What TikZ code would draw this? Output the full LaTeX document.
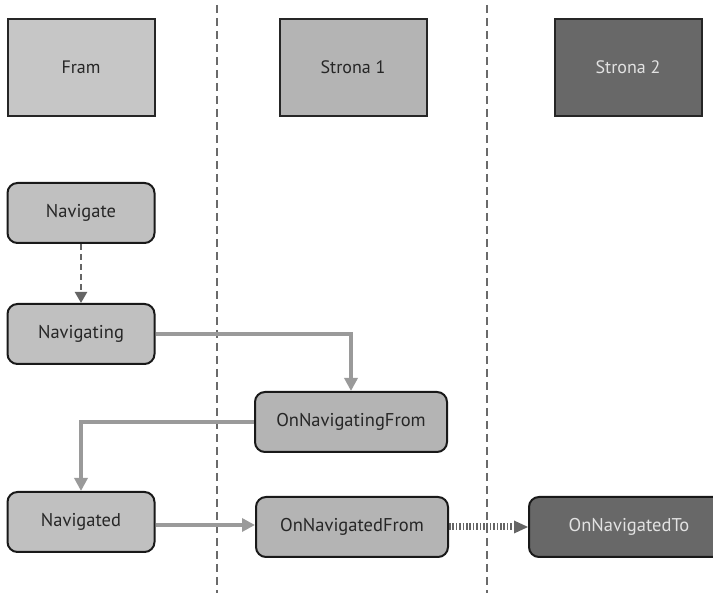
\documentclass[tikz,border=0pt]{standalone}
\usepackage{fontspec}
\setmainfont{PT Sans}
\usetikzlibrary{arrows.meta}
\definecolor{framfill}{HTML}{C6C6C6}
\definecolor{s1fill}{HTML}{B4B4B4}
\definecolor{s2fill}{HTML}{686868}
\definecolor{nodefill}{HTML}{C0C0C0}
\definecolor{nodefillb}{HTML}{B4B4B4}
\definecolor{arrowgray}{HTML}{9A9A9A}
\definecolor{darkarrow}{HTML}{656565}
\definecolor{linegray}{HTML}{6A6A6A}
\definecolor{lighttext}{HTML}{E2E2E2}
\begin{document}
\begin{tikzpicture}[x=1pt,y=-1pt,
  header/.style={draw=black!85,line width=2pt,minimum width=147pt,minimum height=97pt,inner sep=0pt,font=\fontsize{18}{20}\selectfont,text=black!85},
  evbox/.style={draw=black!90,line width=2pt,rounded corners=10pt,minimum height=60pt,inner sep=0pt,fill=nodefill,font=\fontsize{18.5}{21}\selectfont,text=black!85},
  flow/.style={draw=arrowgray,line width=3.5pt,-{Triangle[length=13pt,width=13pt]}},
  divider/.style={draw=linegray,line width=1.1pt,dash pattern=on 8pt off 5pt}
]
\useasboundingbox (0,0) rectangle (713,593);
% dividers
\coordinate (d1t) at (217,5);
\coordinate (d1b) at (217,593);
\coordinate (d2t) at (487,5);
\coordinate (d2b) at (487,593);
\draw[divider] (d1t) -- (d1b);
\draw[divider] (d2t) -- (d2b);
% headers
\node[header,fill=framfill] (fram) at (81,67.5) {Fram};
\node[header,fill=s1fill] (s1) at (353,67.5) {Strona 1};
\node[header,fill=s2fill,text=lighttext] (s2) at (628,67.5) {Strona 2};
% event boxes
\node[evbox,minimum width=147pt] (navigate) at (81,213) {Navigate};
\node[evbox,minimum width=147pt] (navigating) at (81,334) {Navigating};
\node[evbox,minimum width=192pt,fill=nodefillb] (onnavfrom) at (351,422) {OnNavigatingFrom};
\node[evbox,minimum width=147pt] (navigated) at (81,522) {Navigated};
\node[evbox,minimum width=192pt,fill=nodefillb] (onnavdfrom) at (352,527) {OnNavigatedFrom};
\node[evbox,minimum width=200pt,fill=s2fill,text=lighttext] (onnavto) at (629,527) {OnNavigatedTo};
% connectors
\draw[draw=darkarrow,line width=2.2pt,dash pattern=on 6pt off 4pt,-{Triangle[length=11pt,width=12pt]}] (navigate.south) -- (navigating.north);
\draw[flow] (navigating.east) -| (onnavfrom.north);
\draw[flow] (onnavfrom.west) -| (navigated.north);
\draw[flow] (navigated.east |- 0,525) -- (onnavdfrom.west |- 0,525);
\draw[draw=darkarrow,line width=7pt,dash pattern=on 1.5pt off 1.9pt,-{Triangle[length=14pt,width=13pt,line width=0pt]}] (onnavdfrom.east) -- (onnavto.west);
\end{tikzpicture}
\end{document}
